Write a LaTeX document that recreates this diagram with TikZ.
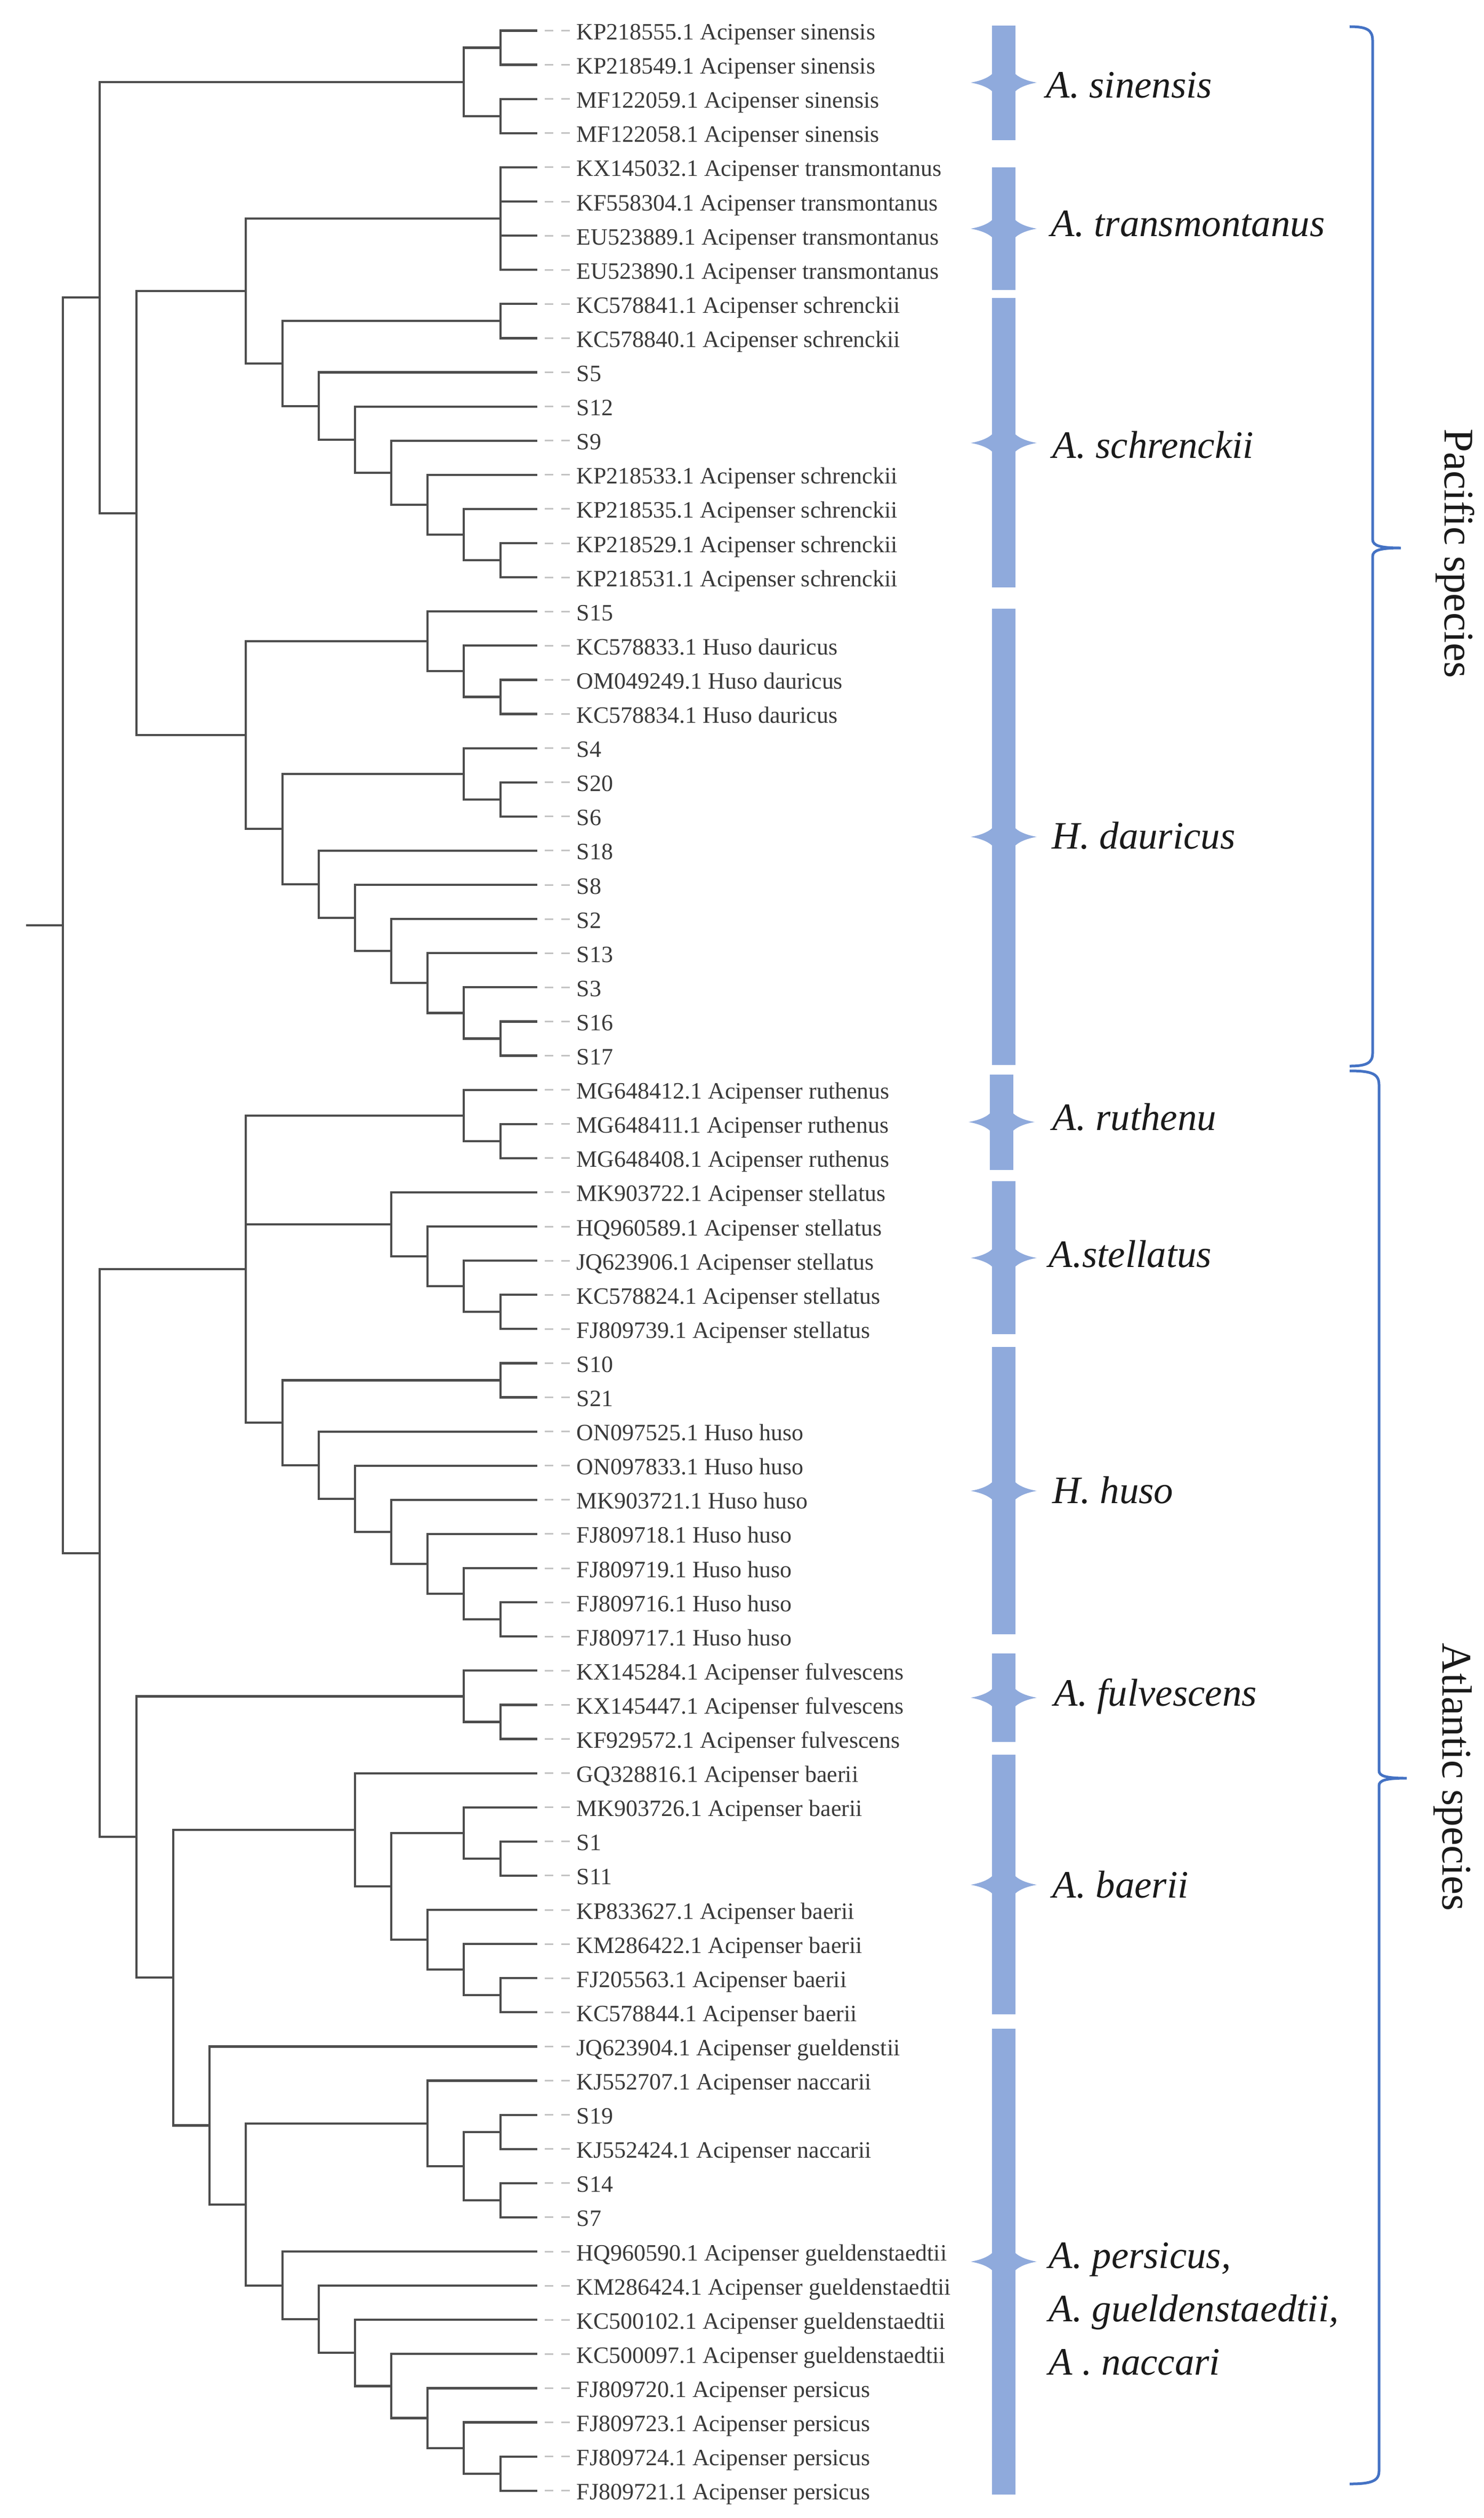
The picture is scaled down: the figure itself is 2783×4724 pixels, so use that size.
\documentclass[tikz,border=0pt]{standalone}
\usepackage{fontspec}
\setmainfont{Liberation Serif}
\definecolor{treegray}{HTML}{4D4D4D}
\definecolor{dashgray}{HTML}{C4C4C4}
\definecolor{labelgray}{HTML}{3A3A3A}
\definecolor{barblue}{HTML}{8FAADC}
\definecolor{braceblue}{HTML}{4472C4}
\definecolor{speciesblack}{HTML}{1A1A1A}
\tikzset{
  branch/.style={draw=treegray, line width=0.042cm},
  leafdash/.style={draw=dashgray, line width=0.03cm, dash pattern=on 4.55pt off 4.27pt},
  leaflabel/.style={anchor=base west, inner sep=0pt, text=labelgray, font=\fontsize{12.5}{15}\selectfont},
  specieslabel/.style={anchor=base west, inner sep=0pt, text=speciesblack, font=\fontsize{20.7}{28.45}\selectfont\itshape},
  regionlabel/.style={rotate=-90, inner sep=0pt, text=speciesblack, font=\fontsize{22.5}{27}\selectfont},
  bracepath/.style={draw=braceblue, line width=0.05cm},
  barfill/.style={fill=barblue}
}
\begin{document}
\begin{tikzpicture}[x=0.01cm, y=-0.01cm]
                \useasboundingbox (0,0) rectangle (2783,4724);
                
                % Marking leaves with their accession labels
                \coordinate (l1) at (1008,57.5); \node (t1) [leaflabel] at (1081,74.5) {KP218555.1 Acipenser sinensis}; \draw [leafdash] ([xshift=3.98pt]l1) -- ([xshift=-3.1pt]l1 -| t1.west);%
                \coordinate (l2) at (1008,121.6); \node (t2) [leaflabel] at (1081,138.6) {KP218549.1 Acipenser sinensis}; \draw [leafdash] ([xshift=3.98pt]l2) -- ([xshift=-3.1pt]l2 -| t2.west);%
                \coordinate (l3) at (1008,185.7); \node (t3) [leaflabel] at (1081,202.7) {MF122059.1 Acipenser sinensis}; \draw [leafdash] ([xshift=3.98pt]l3) -- ([xshift=-3.1pt]l3 -| t3.west);%
                \coordinate (l4) at (1008,249.8); \node (t4) [leaflabel] at (1081,266.8) {MF122058.1 Acipenser sinensis}; \draw [leafdash] ([xshift=3.98pt]l4) -- ([xshift=-3.1pt]l4 -| t4.west);%
                \coordinate (l5) at (1008,313.9); \node (t5) [leaflabel] at (1081,330.9) {KX145032.1 Acipenser transmontanus}; \draw [leafdash] ([xshift=3.98pt]l5) -- ([xshift=-3.1pt]l5 -| t5.west);%
                \coordinate (l6) at (1008,378.0); \node (t6) [leaflabel] at (1081,395.0) {KF558304.1 Acipenser transmontanus}; \draw [leafdash] ([xshift=3.98pt]l6) -- ([xshift=-3.1pt]l6 -| t6.west);%
                \coordinate (l7) at (1008,442.1); \node (t7) [leaflabel] at (1081,459.1) {EU523889.1 Acipenser transmontanus}; \draw [leafdash] ([xshift=3.98pt]l7) -- ([xshift=-3.1pt]l7 -| t7.west);%
                \coordinate (l8) at (1008,506.2); \node (t8) [leaflabel] at (1081,523.2) {EU523890.1 Acipenser transmontanus}; \draw [leafdash] ([xshift=3.98pt]l8) -- ([xshift=-3.1pt]l8 -| t8.west);%
                \coordinate (l9) at (1008,570.3); \node (t9) [leaflabel] at (1081,587.3) {KC578841.1 Acipenser schrenckii}; \draw [leafdash] ([xshift=3.98pt]l9) -- ([xshift=-3.1pt]l9 -| t9.west);%
                \coordinate (l10) at (1008,634.4); \node (t10) [leaflabel] at (1081,651.4) {KC578840.1 Acipenser schrenckii}; \draw [leafdash] ([xshift=3.98pt]l10) -- ([xshift=-3.1pt]l10 -| t10.west);%
                \coordinate (l11) at (1008,698.5); \node (t11) [leaflabel] at (1081,715.5) {S5}; \draw [leafdash] ([xshift=3.98pt]l11) -- ([xshift=-3.1pt]l11 -| t11.west);%
                \coordinate (l12) at (1008,762.6); \node (t12) [leaflabel] at (1081,779.6) {S12}; \draw [leafdash] ([xshift=3.98pt]l12) -- ([xshift=-3.1pt]l12 -| t12.west);%
                \coordinate (l13) at (1008,826.7); \node (t13) [leaflabel] at (1081,843.7) {S9}; \draw [leafdash] ([xshift=3.98pt]l13) -- ([xshift=-3.1pt]l13 -| t13.west);%
                \coordinate (l14) at (1008,890.8); \node (t14) [leaflabel] at (1081,907.8) {KP218533.1 Acipenser schrenckii}; \draw [leafdash] ([xshift=3.98pt]l14) -- ([xshift=-3.1pt]l14 -| t14.west);%
                \coordinate (l15) at (1008,954.9); \node (t15) [leaflabel] at (1081,971.9) {KP218535.1 Acipenser schrenckii}; \draw [leafdash] ([xshift=3.98pt]l15) -- ([xshift=-3.1pt]l15 -| t15.west);%
                \coordinate (l16) at (1008,1019.0); \node (t16) [leaflabel] at (1081,1036.0) {KP218529.1 Acipenser schrenckii}; \draw [leafdash] ([xshift=3.98pt]l16) -- ([xshift=-3.1pt]l16 -| t16.west);%
                \coordinate (l17) at (1008,1083.1); \node (t17) [leaflabel] at (1081,1100.1) {KP218531.1 Acipenser schrenckii}; \draw [leafdash] ([xshift=3.98pt]l17) -- ([xshift=-3.1pt]l17 -| t17.west);%
                \coordinate (l18) at (1008,1147.2); \node (t18) [leaflabel] at (1081,1164.2) {S15}; \draw [leafdash] ([xshift=3.98pt]l18) -- ([xshift=-3.1pt]l18 -| t18.west);%
                \coordinate (l19) at (1008,1211.3); \node (t19) [leaflabel] at (1081,1228.3) {KC578833.1 Huso dauricus}; \draw [leafdash] ([xshift=3.98pt]l19) -- ([xshift=-3.1pt]l19 -| t19.west);%
                \coordinate (l20) at (1008,1275.4); \node (t20) [leaflabel] at (1081,1292.4) {OM049249.1 Huso dauricus}; \draw [leafdash] ([xshift=3.98pt]l20) -- ([xshift=-3.1pt]l20 -| t20.west);%
                \coordinate (l21) at (1008,1339.5); \node (t21) [leaflabel] at (1081,1356.5) {KC578834.1 Huso dauricus}; \draw [leafdash] ([xshift=3.98pt]l21) -- ([xshift=-3.1pt]l21 -| t21.west);%
                \coordinate (l22) at (1008,1403.6); \node (t22) [leaflabel] at (1081,1420.6) {S4}; \draw [leafdash] ([xshift=3.98pt]l22) -- ([xshift=-3.1pt]l22 -| t22.west);%
                \coordinate (l23) at (1008,1467.7); \node (t23) [leaflabel] at (1081,1484.7) {S20}; \draw [leafdash] ([xshift=3.98pt]l23) -- ([xshift=-3.1pt]l23 -| t23.west);%
                \coordinate (l24) at (1008,1531.8); \node (t24) [leaflabel] at (1081,1548.8) {S6}; \draw [leafdash] ([xshift=3.98pt]l24) -- ([xshift=-3.1pt]l24 -| t24.west);%
                \coordinate (l25) at (1008,1595.9); \node (t25) [leaflabel] at (1081,1612.9) {S18}; \draw [leafdash] ([xshift=3.98pt]l25) -- ([xshift=-3.1pt]l25 -| t25.west);%
                \coordinate (l26) at (1008,1660.0); \node (t26) [leaflabel] at (1081,1677.0) {S8}; \draw [leafdash] ([xshift=3.98pt]l26) -- ([xshift=-3.1pt]l26 -| t26.west);%
                \coordinate (l27) at (1008,1724.1); \node (t27) [leaflabel] at (1081,1741.1) {S2}; \draw [leafdash] ([xshift=3.98pt]l27) -- ([xshift=-3.1pt]l27 -| t27.west);%
                \coordinate (l28) at (1008,1788.2); \node (t28) [leaflabel] at (1081,1805.2) {S13}; \draw [leafdash] ([xshift=3.98pt]l28) -- ([xshift=-3.1pt]l28 -| t28.west);%
                \coordinate (l29) at (1008,1852.3); \node (t29) [leaflabel] at (1081,1869.3) {S3}; \draw [leafdash] ([xshift=3.98pt]l29) -- ([xshift=-3.1pt]l29 -| t29.west);%
                \coordinate (l30) at (1008,1916.4); \node (t30) [leaflabel] at (1081,1933.4) {S16}; \draw [leafdash] ([xshift=3.98pt]l30) -- ([xshift=-3.1pt]l30 -| t30.west);%
                \coordinate (l31) at (1008,1980.5); \node (t31) [leaflabel] at (1081,1997.5) {S17}; \draw [leafdash] ([xshift=3.98pt]l31) -- ([xshift=-3.1pt]l31 -| t31.west);%
                \coordinate (l32) at (1008,2044.6); \node (t32) [leaflabel] at (1081,2061.6) {MG648412.1 Acipenser ruthenus}; \draw [leafdash] ([xshift=3.98pt]l32) -- ([xshift=-3.1pt]l32 -| t32.west);%
                \coordinate (l33) at (1008,2108.7); \node (t33) [leaflabel] at (1081,2125.7) {MG648411.1 Acipenser ruthenus}; \draw [leafdash] ([xshift=3.98pt]l33) -- ([xshift=-3.1pt]l33 -| t33.west);%
                \coordinate (l34) at (1008,2172.8); \node (t34) [leaflabel] at (1081,2189.8) {MG648408.1 Acipenser ruthenus}; \draw [leafdash] ([xshift=3.98pt]l34) -- ([xshift=-3.1pt]l34 -| t34.west);%
                \coordinate (l35) at (1008,2236.9); \node (t35) [leaflabel] at (1081,2253.9) {MK903722.1 Acipenser stellatus}; \draw [leafdash] ([xshift=3.98pt]l35) -- ([xshift=-3.1pt]l35 -| t35.west);%
                \coordinate (l36) at (1008,2301.0); \node (t36) [leaflabel] at (1081,2318.0) {HQ960589.1 Acipenser stellatus}; \draw [leafdash] ([xshift=3.98pt]l36) -- ([xshift=-3.1pt]l36 -| t36.west);%
                \coordinate (l37) at (1008,2365.1); \node (t37) [leaflabel] at (1081,2382.1) {JQ623906.1 Acipenser stellatus}; \draw [leafdash] ([xshift=3.98pt]l37) -- ([xshift=-3.1pt]l37 -| t37.west);%
                \coordinate (l38) at (1008,2429.2); \node (t38) [leaflabel] at (1081,2446.2) {KC578824.1 Acipenser stellatus}; \draw [leafdash] ([xshift=3.98pt]l38) -- ([xshift=-3.1pt]l38 -| t38.west);%
                \coordinate (l39) at (1008,2493.3); \node (t39) [leaflabel] at (1081,2510.3) {FJ809739.1 Acipenser stellatus}; \draw [leafdash] ([xshift=3.98pt]l39) -- ([xshift=-3.1pt]l39 -| t39.west);%
                \coordinate (l40) at (1008,2557.4); \node (t40) [leaflabel] at (1081,2574.4) {S10}; \draw [leafdash] ([xshift=3.98pt]l40) -- ([xshift=-3.1pt]l40 -| t40.west);%
                \coordinate (l41) at (1008,2621.5); \node (t41) [leaflabel] at (1081,2638.5) {S21}; \draw [leafdash] ([xshift=3.98pt]l41) -- ([xshift=-3.1pt]l41 -| t41.west);%
                \coordinate (l42) at (1008,2685.6); \node (t42) [leaflabel] at (1081,2702.6) {ON097525.1 Huso huso}; \draw [leafdash] ([xshift=3.98pt]l42) -- ([xshift=-3.1pt]l42 -| t42.west);%
                \coordinate (l43) at (1008,2749.7); \node (t43) [leaflabel] at (1081,2766.7) {ON097833.1 Huso huso}; \draw [leafdash] ([xshift=3.98pt]l43) -- ([xshift=-3.1pt]l43 -| t43.west);%
                \coordinate (l44) at (1008,2813.8); \node (t44) [leaflabel] at (1081,2830.8) {MK903721.1 Huso huso}; \draw [leafdash] ([xshift=3.98pt]l44) -- ([xshift=-3.1pt]l44 -| t44.west);%
                \coordinate (l45) at (1008,2877.9); \node (t45) [leaflabel] at (1081,2894.9) {FJ809718.1 Huso huso}; \draw [leafdash] ([xshift=3.98pt]l45) -- ([xshift=-3.1pt]l45 -| t45.west);%
                \coordinate (l46) at (1008,2942.0); \node (t46) [leaflabel] at (1081,2959.0) {FJ809719.1 Huso huso}; \draw [leafdash] ([xshift=3.98pt]l46) -- ([xshift=-3.1pt]l46 -| t46.west);%
                \coordinate (l47) at (1008,3006.1); \node (t47) [leaflabel] at (1081,3023.1) {FJ809716.1 Huso huso}; \draw [leafdash] ([xshift=3.98pt]l47) -- ([xshift=-3.1pt]l47 -| t47.west);%
                \coordinate (l48) at (1008,3070.2); \node (t48) [leaflabel] at (1081,3087.2) {FJ809717.1 Huso huso}; \draw [leafdash] ([xshift=3.98pt]l48) -- ([xshift=-3.1pt]l48 -| t48.west);%
                \coordinate (l49) at (1008,3134.3); \node (t49) [leaflabel] at (1081,3151.3) {KX145284.1 Acipenser fulvescens}; \draw [leafdash] ([xshift=3.98pt]l49) -- ([xshift=-3.1pt]l49 -| t49.west);%
                \coordinate (l50) at (1008,3198.4); \node (t50) [leaflabel] at (1081,3215.4) {KX145447.1 Acipenser fulvescens}; \draw [leafdash] ([xshift=3.98pt]l50) -- ([xshift=-3.1pt]l50 -| t50.west);%
                \coordinate (l51) at (1008,3262.5); \node (t51) [leaflabel] at (1081,3279.5) {KF929572.1 Acipenser fulvescens}; \draw [leafdash] ([xshift=3.98pt]l51) -- ([xshift=-3.1pt]l51 -| t51.west);%
                \coordinate (l52) at (1008,3326.6); \node (t52) [leaflabel] at (1081,3343.6) {GQ328816.1 Acipenser baerii}; \draw [leafdash] ([xshift=3.98pt]l52) -- ([xshift=-3.1pt]l52 -| t52.west);%
                \coordinate (l53) at (1008,3390.7); \node (t53) [leaflabel] at (1081,3407.7) {MK903726.1 Acipenser baerii}; \draw [leafdash] ([xshift=3.98pt]l53) -- ([xshift=-3.1pt]l53 -| t53.west);%
                \coordinate (l54) at (1008,3454.8); \node (t54) [leaflabel] at (1081,3471.8) {S1}; \draw [leafdash] ([xshift=3.98pt]l54) -- ([xshift=-3.1pt]l54 -| t54.west);%
                \coordinate (l55) at (1008,3518.9); \node (t55) [leaflabel] at (1081,3535.9) {S11}; \draw [leafdash] ([xshift=3.98pt]l55) -- ([xshift=-3.1pt]l55 -| t55.west);%
                \coordinate (l56) at (1008,3583.0); \node (t56) [leaflabel] at (1081,3600.0) {KP833627.1 Acipenser baerii}; \draw [leafdash] ([xshift=3.98pt]l56) -- ([xshift=-3.1pt]l56 -| t56.west);%
                \coordinate (l57) at (1008,3647.1); \node (t57) [leaflabel] at (1081,3664.1) {KM286422.1 Acipenser baerii}; \draw [leafdash] ([xshift=3.98pt]l57) -- ([xshift=-3.1pt]l57 -| t57.west);%
                \coordinate (l58) at (1008,3711.2); \node (t58) [leaflabel] at (1081,3728.2) {FJ205563.1 Acipenser baerii}; \draw [leafdash] ([xshift=3.98pt]l58) -- ([xshift=-3.1pt]l58 -| t58.west);%
                \coordinate (l59) at (1008,3775.3); \node (t59) [leaflabel] at (1081,3792.3) {KC578844.1 Acipenser baerii}; \draw [leafdash] ([xshift=3.98pt]l59) -- ([xshift=-3.1pt]l59 -| t59.west);%
                \coordinate (l60) at (1008,3839.4); \node (t60) [leaflabel] at (1081,3856.4) {JQ623904.1 Acipenser gueldenstii}; \draw [leafdash] ([xshift=3.98pt]l60) -- ([xshift=-3.1pt]l60 -| t60.west);%
                \coordinate (l61) at (1008,3903.5); \node (t61) [leaflabel] at (1081,3920.5) {KJ552707.1 Acipenser naccarii}; \draw [leafdash] ([xshift=3.98pt]l61) -- ([xshift=-3.1pt]l61 -| t61.west);%
                \coordinate (l62) at (1008,3967.6); \node (t62) [leaflabel] at (1081,3984.6) {S19}; \draw [leafdash] ([xshift=3.98pt]l62) -- ([xshift=-3.1pt]l62 -| t62.west);%
                \coordinate (l63) at (1008,4031.7); \node (t63) [leaflabel] at (1081,4048.7) {KJ552424.1 Acipenser naccarii}; \draw [leafdash] ([xshift=3.98pt]l63) -- ([xshift=-3.1pt]l63 -| t63.west);%
                \coordinate (l64) at (1008,4095.8); \node (t64) [leaflabel] at (1081,4112.8) {S14}; \draw [leafdash] ([xshift=3.98pt]l64) -- ([xshift=-3.1pt]l64 -| t64.west);%
                \coordinate (l65) at (1008,4159.9); \node (t65) [leaflabel] at (1081,4176.9) {S7}; \draw [leafdash] ([xshift=3.98pt]l65) -- ([xshift=-3.1pt]l65 -| t65.west);%
                \coordinate (l66) at (1008,4224.0); \node (t66) [leaflabel] at (1081,4241.0) {HQ960590.1 Acipenser gueldenstaedtii}; \draw [leafdash] ([xshift=3.98pt]l66) -- ([xshift=-3.1pt]l66 -| t66.west);%
                \coordinate (l67) at (1008,4288.1); \node (t67) [leaflabel] at (1081,4305.1) {KM286424.1 Acipenser gueldenstaedtii}; \draw [leafdash] ([xshift=3.98pt]l67) -- ([xshift=-3.1pt]l67 -| t67.west);%
                \coordinate (l68) at (1008,4352.2); \node (t68) [leaflabel] at (1081,4369.2) {KC500102.1 Acipenser gueldenstaedtii}; \draw [leafdash] ([xshift=3.98pt]l68) -- ([xshift=-3.1pt]l68 -| t68.west);%
                \coordinate (l69) at (1008,4416.3); \node (t69) [leaflabel] at (1081,4433.3) {KC500097.1 Acipenser gueldenstaedtii}; \draw [leafdash] ([xshift=3.98pt]l69) -- ([xshift=-3.1pt]l69 -| t69.west);%
                \coordinate (l70) at (1008,4480.4); \node (t70) [leaflabel] at (1081,4497.4) {FJ809720.1 Acipenser persicus}; \draw [leafdash] ([xshift=3.98pt]l70) -- ([xshift=-3.1pt]l70 -| t70.west);%
                \coordinate (l71) at (1008,4544.5); \node (t71) [leaflabel] at (1081,4561.5) {FJ809723.1 Acipenser persicus}; \draw [leafdash] ([xshift=3.98pt]l71) -- ([xshift=-3.1pt]l71 -| t71.west);%
                \coordinate (l72) at (1008,4608.6); \node (t72) [leaflabel] at (1081,4625.6) {FJ809724.1 Acipenser persicus}; \draw [leafdash] ([xshift=3.98pt]l72) -- ([xshift=-3.1pt]l72 -| t72.west);%
                \coordinate (l73) at (1008,4672.7); \node (t73) [leaflabel] at (1081,4689.7) {FJ809721.1 Acipenser persicus}; \draw [leafdash] ([xshift=3.98pt]l73) -- ([xshift=-3.1pt]l73 -| t73.west);%
                
                % Drawing clade sinensis
                \coordinate (a1) at (939,89.55);
                \coordinate (a2) at (939,217.75);
                \coordinate (A) at (870,153.65);
                \draw [branch] (a1) |- (l1) (a1) |- (l2) (a2) |- (l3) (a2) |- (l4);%
                \draw [branch] (A) |- (a1) (A) |- (a2);%
                
                % Drawing clade transmontanus
                \coordinate (T) at (939,410.05);
                \draw [branch] (T) |- (l5) (T) |- (l6) (T) |- (l7) (T) |- (l8);%
                
                % Drawing clade schrenckii
                \coordinate (s13) at (939,1051.05);
                \coordinate (s12) at (870,1002.98);
                \coordinate (s11) at (802,946.89);
                \coordinate (s10) at (734,886.79);
                \coordinate (s9) at (666,824.70);
                \coordinate (s8) at (598,761.60);
                \coordinate (sp) at (939,602.35);
                \coordinate (s7) at (530,681.98);
                \draw [branch] (s13) |- (l16) (s13) |- (l17);%
                \draw [branch] (s12) |- (l15) (s12) |- (s13);%
                \draw [branch] (s11) |- (l14) (s11) |- (s12);%
                \draw [branch] (s10) |- (l13) (s10) |- (s11);%
                \draw [branch] (s9) |- (l12) (s9) |- (s10);%
                \draw [branch] (s8) |- (l11) (s8) |- (s9);%
                \draw [branch] (sp) |- (l9) (sp) |- (l10);%
                \draw [branch] (s7) |- (sp) (s7) |- (s8);%
                \coordinate (P6) at (461,546.01);
                \draw [branch] (P6) |- (T) (P6) |- (s7);%
                
                % Drawing clade dauricus
                \coordinate (d13) at (939,1307.45);
                \coordinate (d12) at (870,1259.38);
                \coordinate (d11) at (802,1203.29);
                \draw [branch] (d13) |- (l20) (d13) |- (l21);%
                \draw [branch] (d12) |- (l19) (d12) |- (d13);%
                \draw [branch] (d11) |- (l18) (d11) |- (d12);%
                \coordinate (e13) at (939,1499.75);
                \coordinate (e12) at (870,1451.68);
                \draw [branch] (e13) |- (l23) (e13) |- (l24);%
                \draw [branch] (e12) |- (l22) (e12) |- (e13);%
                \coordinate (f13) at (939,1948.45);
                \coordinate (f12) at (870,1900.38);
                \coordinate (f11) at (802,1844.29);
                \coordinate (f10) at (734,1784.19);
                \coordinate (f9) at (666,1722.10);
                \coordinate (f8) at (598,1659.00);
                \draw [branch] (f13) |- (l30) (f13) |- (l31);%
                \draw [branch] (f12) |- (l29) (f12) |- (f13);%
                \draw [branch] (f11) |- (l28) (f11) |- (f12);%
                \draw [branch] (f10) |- (l27) (f10) |- (f11);%
                \draw [branch] (f9) |- (l26) (f9) |- (f10);%
                \draw [branch] (f8) |- (l25) (f8) |- (f9);%
                \coordinate (D7) at (530,1555.34);
                \coordinate (D6) at (461,1379.31);
                \draw [branch] (D7) |- (e12) (D7) |- (f8);%
                \draw [branch] (D6) |- (d11) (D6) |- (D7);%
                
                % Drawing Pacific group
                \coordinate (P3) at (256,962.66);
                \coordinate (P2) at (187,558.16);
                \draw [branch] (P3) |- (P6) (P3) |- (D6);%
                \draw [branch] (P2) |- (A) (P2) |- (P3);%
                
                % Drawing clades ruthenus, stellatus, huso
                \coordinate (r13) at (939,2140.75);
                \coordinate (R) at (870,2092.68);
                \draw [branch] (r13) |- (l33) (r13) |- (l34);%
                \draw [branch] (R) |- (l32) (R) |- (r13);%
                \coordinate (st13) at (939,2461.25);
                \coordinate (st12) at (870,2413.18);
                \coordinate (st11) at (802,2357.09);
                \coordinate (ST) at (734,2296.99);
                \draw [branch] (st13) |- (l38) (st13) |- (l39);%
                \draw [branch] (st12) |- (l37) (st12) |- (st13);%
                \draw [branch] (st11) |- (l36) (st11) |- (st12);%
                \draw [branch] (ST) |- (l35) (ST) |- (st11);%
                \coordinate (hs) at (939,2589.45);
                \coordinate (h13) at (939,3038.15);
                \coordinate (h12) at (870,2990.08);
                \coordinate (h11) at (802,2933.99);
                \coordinate (h10) at (734,2873.89);
                \coordinate (h9) at (666,2811.80);
                \coordinate (h8) at (598,2748.70);
                \coordinate (H7) at (530,2669.08);
                \draw [branch] (hs) |- (l40) (hs) |- (l41);%
                \draw [branch] (h13) |- (l47) (h13) |- (l48);%
                \draw [branch] (h12) |- (l46) (h12) |- (h13);%
                \draw [branch] (h11) |- (l45) (h11) |- (h12);%
                \draw [branch] (h10) |- (l44) (h10) |- (h11);%
                \draw [branch] (h9) |- (l43) (h9) |- (h10);%
                \draw [branch] (h8) |- (l42) (h8) |- (h9);%
                \draw [branch] (H7) |- (hs) (H7) |- (h8);%
                \coordinate (Q6) at (461,2380.88);
                \draw [branch] (Q6) |- (R) (Q6) |- (ST) (Q6) |- (H7);%
                
                % Drawing clade fulvescens
                \coordinate (fv13) at (939,3230.45);
                \coordinate (FV) at (870,3182.38);
                \draw [branch] (fv13) |- (l50) (fv13) |- (l51);%
                \draw [branch] (FV) |- (l49) (FV) |- (fv13);%
                
                % Drawing clade baerii
                \coordinate (b13a) at (939,3486.85);
                \coordinate (b12a) at (870,3438.78);
                \coordinate (b13b) at (939,3743.25);
                \coordinate (b12b) at (870,3695.18);
                \coordinate (b11) at (802,3639.09);
                \coordinate (b10) at (734,3538.93);
                \coordinate (B9) at (666,3432.77);
                \draw [branch] (b13a) |- (l54) (b13a) |- (l55);%
                \draw [branch] (b12a) |- (l53) (b12a) |- (b13a);%
                \draw [branch] (b13b) |- (l58) (b13b) |- (l59);%
                \draw [branch] (b12b) |- (l57) (b12b) |- (b13b);%
                \draw [branch] (b11) |- (l56) (b11) |- (b12b);%
                \draw [branch] (b10) |- (b12a) (b10) |- (b11);%
                \draw [branch] (B9) |- (l52) (B9) |- (b10);%
                
                % Drawing clade persicus, gueldenstaedtii, naccarii
                \coordinate (n13a) at (939,3999.65);
                \coordinate (n13b) at (939,4127.85);
                \coordinate (n12) at (870,4063.75);
                \coordinate (N11) at (802,3983.63);
                \draw [branch] (n13a) |- (l62) (n13a) |- (l63);%
                \draw [branch] (n13b) |- (l64) (n13b) |- (l65);%
                \draw [branch] (n12) |- (n13a) (n12) |- (n13b);%
                \draw [branch] (N11) |- (l61) (N11) |- (n12);%
                \coordinate (g13) at (939,4640.65);
                \coordinate (g12) at (870,4592.58);
                \coordinate (g11) at (802,4536.49);
                \coordinate (g10) at (734,4476.39);
                \coordinate (g9) at (666,4414.30);
                \coordinate (g8) at (598,4351.20);
                \coordinate (G7) at (530,4287.60);
                \draw [branch] (g13) |- (l72) (g13) |- (l73);%
                \draw [branch] (g12) |- (l71) (g12) |- (g13);%
                \draw [branch] (g11) |- (l70) (g11) |- (g12);%
                \draw [branch] (g10) |- (l69) (g10) |- (g11);%
                \draw [branch] (g9) |- (l68) (g9) |- (g10);%
                \draw [branch] (g8) |- (l67) (g8) |- (g9);%
                \draw [branch] (G7) |- (l66) (G7) |- (g8);%
                \coordinate (M6) at (461,4135.61);
                \coordinate (M5) at (393,3987.51);
                \coordinate (M4) at (325,3710.14);
                \coordinate (M3) at (256,3446.26);
                \draw [branch] (M6) |- (N11) (M6) |- (G7);%
                \draw [branch] (M5) |- (l60) (M5) |- (M6);%
                \draw [branch] (M4) |- (B9) (M4) |- (M5);%
                \draw [branch] (M3) |- (FV) (M3) |- (M4);%
                
                % Drawing Atlantic group and root
                \coordinate (Q2) at (187,2913.57);
                \coordinate (O) at (118,1735.87);
                \coordinate (O0) at (49,1735.87);
                \draw [branch] (Q2) |- (Q6) (Q2) |- (M3);%
                \draw [branch] (O) |- (P2) (O) |- (Q2);%
                \draw [branch] (O0) -- (O);%
                
                % Drawing species bars
                \fill [barfill] (1861,48) rectangle (1905,263);%
                \fill [barfill] (1861,139) .. controls (1852,147) and (1838,152) .. (1821,155) .. controls (1838,158) and (1852,163) .. (1861,171) -- (1905,171) .. controls (1914,163) and (1928,158) .. (1945,155) .. controls (1928,152) and (1914,147) .. (1905,139) -- cycle;%
                \fill [barfill] (1861,314) rectangle (1905,544);%
                \fill [barfill] (1861,413) .. controls (1852,421) and (1838,426) .. (1821,429) .. controls (1838,432) and (1852,437) .. (1861,445) -- (1905,445) .. controls (1914,437) and (1928,432) .. (1945,429) .. controls (1928,426) and (1914,421) .. (1905,413) -- cycle;%
                \fill [barfill] (1861,559) rectangle (1905,1102);%
                \fill [barfill] (1861,815) .. controls (1852,823) and (1838,828) .. (1821,831) .. controls (1838,834) and (1852,839) .. (1861,847) -- (1905,847) .. controls (1914,839) and (1928,834) .. (1945,831) .. controls (1928,828) and (1914,823) .. (1905,815) -- cycle;%
                \fill [barfill] (1861,1142) rectangle (1905,1998);%
                \fill [barfill] (1861,1554) .. controls (1852,1562) and (1838,1567) .. (1821,1570) .. controls (1838,1573) and (1852,1578) .. (1861,1586) -- (1905,1586) .. controls (1914,1578) and (1928,1573) .. (1945,1570) .. controls (1928,1567) and (1914,1562) .. (1905,1554) -- cycle;%
                \fill [barfill] (1857,2016) rectangle (1901,2195);%
                \fill [barfill] (1857,2089) .. controls (1848,2097) and (1834,2102) .. (1817,2105) .. controls (1834,2108) and (1848,2113) .. (1857,2121) -- (1901,2121) .. controls (1910,2113) and (1924,2108) .. (1941,2105) .. controls (1924,2102) and (1910,2097) .. (1901,2089) -- cycle;%
                \fill [barfill] (1861,2216) rectangle (1905,2503);%
                \fill [barfill] (1861,2344) .. controls (1852,2352) and (1838,2357) .. (1821,2360) .. controls (1838,2363) and (1852,2368) .. (1861,2376) -- (1905,2376) .. controls (1914,2368) and (1928,2363) .. (1945,2360) .. controls (1928,2357) and (1914,2352) .. (1905,2344) -- cycle;%
                \fill [barfill] (1861,2527) rectangle (1905,3066);%
                \fill [barfill] (1861,2781) .. controls (1852,2789) and (1838,2794) .. (1821,2797) .. controls (1838,2800) and (1852,2805) .. (1861,2813) -- (1905,2813) .. controls (1914,2805) and (1928,2800) .. (1945,2797) .. controls (1928,2794) and (1914,2789) .. (1905,2781) -- cycle;%
                \fill [barfill] (1861,3102) rectangle (1905,3268);%
                \fill [barfill] (1861,3169) .. controls (1852,3177) and (1838,3182) .. (1821,3185) .. controls (1838,3188) and (1852,3193) .. (1861,3201) -- (1905,3201) .. controls (1914,3193) and (1928,3188) .. (1945,3185) .. controls (1928,3182) and (1914,3177) .. (1905,3169) -- cycle;%
                \fill [barfill] (1861,3292) rectangle (1905,3779);%
                \fill [barfill] (1861,3520) .. controls (1852,3528) and (1838,3533) .. (1821,3536) .. controls (1838,3539) and (1852,3544) .. (1861,3552) -- (1905,3552) .. controls (1914,3544) and (1928,3539) .. (1945,3536) .. controls (1928,3533) and (1914,3528) .. (1905,3520) -- cycle;%
                \fill [barfill] (1861,3806) rectangle (1905,4680);%
                \fill [barfill] (1861,4227) .. controls (1852,4235) and (1838,4240) .. (1821,4243) .. controls (1838,4246) and (1852,4251) .. (1861,4259) -- (1905,4259) .. controls (1914,4251) and (1928,4246) .. (1945,4243) .. controls (1928,4240) and (1914,4235) .. (1905,4227) -- cycle;%
                
                % Marking species names
                \node (nsin) [specieslabel] at (1962,184) {A. sinensis};%
                \node (ntra) [specieslabel] at (1971,443) {A. transmontanus};%
                \node (nsch) [specieslabel] at (1974,859) {A. schrenckii};%
                \node (ndau) [specieslabel] at (1973,1592) {H. dauricus};%
                \node (nrut) [specieslabel] at (1974,2120) {A. ruthenu};%
                \node (nste) [specieslabel] at (1967,2377) {A.stellatus};%
                \node (nhus) [specieslabel] at (1974,2820) {H. huso};%
                \node (nful) [specieslabel] at (1977,3200) {A. fulvescens};%
                \node (nbae) [specieslabel] at (1974,3560) {A. baerii};%
                \node (nper) [specieslabel] at (1967,4255) {\begin{tabular}[t]{@{}l@{}}A. persicus,\\A. gueldenstaedtii,\\A . naccari\end{tabular}};%
                
                % Drawing Pacific brace
                \draw [bracepath] (2532,50) .. controls (2564,50) and (2575,56) .. (2575,76) -- (2575,1012) .. controls (2575,1024) and (2590,1028) .. (2628,1028) .. controls (2590,1028) and (2575,1032) .. (2575,1044) -- (2575,1976) .. controls (2575,1994) and (2564,2000) .. (2532,2000);%
                
                % Drawing Atlantic brace
                \draw [bracepath] (2532,2009) .. controls (2574,2009) and (2587,2015) .. (2587,2035) -- (2587,3322) .. controls (2587,3332) and (2600,3336) .. (2639,3336) .. controls (2600,3336) and (2587,3340) .. (2587,3350) -- (2587,4636) .. controls (2587,4654) and (2574,4660) .. (2532,4660);%
                
                % Marking regions
                \node (pac) [regionlabel] at (2730,1038) {Pacific species};%
                \node (atl) [regionlabel] at (2725,3334) {Atlantic species};%
                \end{tikzpicture}
\end{document}
